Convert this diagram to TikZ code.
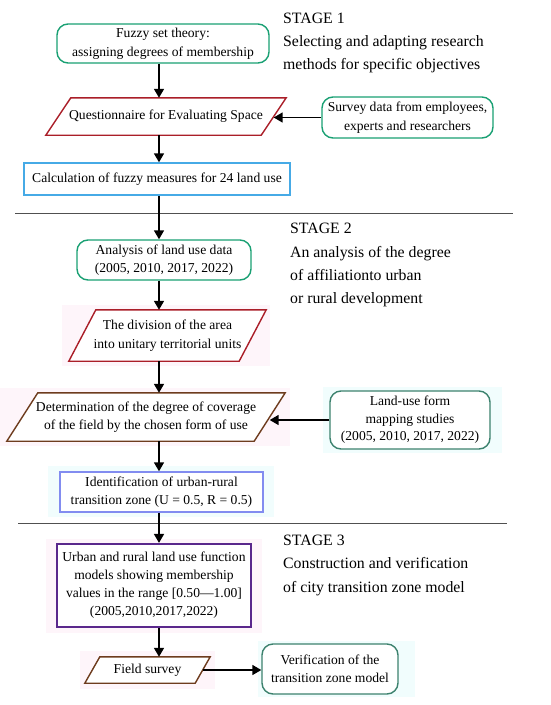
\documentclass[tikz,border=0pt]{standalone}
\usepackage{fontspec}
\setmainfont{Liberation Serif}
\usetikzlibrary{calc,arrows.meta}
\definecolor{grn}{RGB}{25,160,115}
\definecolor{drd}{RGB}{170,30,40}
\definecolor{lbl}{RGB}{70,170,230}
\definecolor{brn}{RGB}{110,60,30}
\definecolor{lpu}{RGB}{130,140,240}
\definecolor{pur}{RGB}{90,40,140}
\definecolor{tea}{RGB}{60,130,110}
\definecolor{sep}{RGB}{80,80,80}
\definecolor{bgpink}{RGB}{254,245,250}
\definecolor{bgcyan}{RGB}{241,253,253}
\newcommand{\drawpara}[3]{\draw[#3] ($(#1.north west)+(#2,0)$) -- ($(#1.north east)+(#2,0)$) -- ($(#1.south east)+(-#2,0)$) -- ($(#1.south west)+(-#2,0)$) -- cycle;}
\tikzset{
  txt/.style={font=\fontsize{13.6}{18.5}\selectfont, align=center, inner sep=0pt},
  rbox/.style={txt, draw, line width=1.4pt, rounded corners=11pt, fill=white},
  sbox/.style={txt, draw, line width=1.4pt, fill=white},
  pbox/.style={txt},
  pline/.style={line width=1.4pt, fill=white},
  stage/.style={font=\fontsize{15.8}{22}\selectfont, anchor=base west, inner sep=0pt},
  arr/.style={line width=1.6pt, -{Triangle[width=10pt,length=9pt]}},
  divider/.style={sep, line width=0.8pt},
  glow/.style={draw=none}
}
\begin{document}
\begin{tikzpicture}[x=1pt,y=-1pt]
\useasboundingbox (0,0) rectangle (550,705);
\coordinate (ax) at (159,0);
% faint background highlights
\fill[glow, bgpink] (62,305) rectangle (270,366);
\fill[glow, bgpink] (0,388) rectangle (290,446);
\fill[glow, bgcyan] (323,387) rectangle (502,453);
\fill[glow, bgcyan] (48,466) rectangle (274,517);
\fill[glow, bgpink] (46,539) rectangle (262,633);
\fill[glow, bgpink] (80,651) rectangle (215,689);
\fill[glow, bgcyan] (258,641) rectangle (415,697);
% dividers
\draw[divider] (15,213) -- (513,213);
\draw[divider] (18,523) -- (507,523);
% stage texts
\node[stage] (s1a) at (283,23) {STAGE 1};
\node[stage] (s1b) at (283,46) {Selecting and adapting research};
\node[stage] (s1c) at (283,69) {methods for specific objectives};
\node[stage] (s2a) at (290,233) {STAGE 2};
\node[stage] (s2b) at (290,257) {An analysis of the degree};
\node[stage] (s2c) at (290,280) {of affiliationto urban};
\node[stage] (s2d) at (290,303) {or rural development};
\node[stage] (s3a) at (283,545) {STAGE 3};
\node[stage] (s3b) at (283,568) {Construction and verification};
\node[stage] (s3c) at (283,592) {of city transition zone model};
% stage 1
\node[rbox, draw=grn, minimum width=212pt, minimum height=39pt] (fuzzy) at (163,43.5) {Fuzzy set theory:\\assigning degrees of membership};
\node[pbox, minimum width=215pt, minimum height=37pt] (q) at (166,116.5) {};
\drawpara{q}{12.5}{pline, draw=drd}
\node[txt] (qt) at (q.center) {Questionnaire for Evaluating Space};
\node[rbox, draw=grn, minimum width=171pt, minimum height=41pt] (survey) at (407.5,117.5) {Survey data from employees,\\experts and researchers};
\node[sbox, draw=lbl, minimum width=266pt, minimum height=32pt] (calc) at (157,179) {Calculation of fuzzy measures for 24 land use};
% stage 2
\node[rbox, draw=grn, minimum width=174pt, minimum height=40pt] (anal) at (164,260) {Analysis of land use data\\(2005, 2010, 2017, 2022)};
\node[pbox, minimum width=170pt, minimum height=51pt] (div) at (167.5,335.5) {};
\drawpara{div}{13.5}{pline, draw=drd}
\node[txt] (divt) at (div.center) {The division of the area\\into unitary territorial units};
\node[pbox, minimum width=247pt, minimum height=48pt] (det) at (146,417) {};
\drawpara{det}{15.5}{pline, draw=brn}
\node[txt] (dett) at (det.center) {Determination of the degree of coverage\\of the field by the chosen form of use};
\node[rbox, draw=tea, minimum width=160pt, minimum height=58pt, font=\fontsize{13.6}{17.5}\selectfont] (land) at (410,420) {Land-use form\\mapping studies\\(2005, 2010, 2017, 2022)};
\node[sbox, draw=lpu, minimum width=203pt, minimum height=40pt] (ident) at (161.5,492) {Identification of urban-rural\\transition zone (U = 0.5, R = 0.5)};
% stage 3
\node[txt, draw=pur, fill=white, line width=2.2pt, minimum width=194pt, minimum height=83pt, font=\fontsize{13.6}{18}\selectfont] (urban) at (154,585.5) {Urban and rural land use function\\models showing membership\\values in the range [0.50---1.00]\\(2005,2010,2017,2022)};
\node[pbox, minimum width=110pt, minimum height=26pt] (field) at (147.5,670) {};
\drawpara{field}{7.5}{pline, draw=brn}
\node[txt] (fieldt) at (field.center) {Field survey};
\node[rbox, draw=tea, minimum width=136pt, minimum height=50pt] (verif) at (330,669) {Verification of the\\transition zone model};
% connectors
\draw[arr] (fuzzy.south -| ax) -- (q.north -| ax);
\draw[arr] (survey.west) -- (survey.west -| q.east);
\draw[arr] (q.south -| ax) -- (calc.north -| ax);
\draw[arr] (calc.south -| ax) -- (anal.north -| ax);
\draw[arr] (anal.south -| ax) -- (div.north -| ax);
\draw[arr] (div.south -| ax) -- (det.north -| ax);
\draw[arr] (land.west) -- (land.west -| det.east);
\draw[arr] (det.south -| ax) -- (ident.north -| ax);
\draw[arr] (ident.south -| ax) -- (urban.north -| ax);
\draw[arr] (urban.south -| ax) -- (field.north -| ax);
\draw[arr] (field.east) -- (field.east -| verif.west);
\end{tikzpicture}
\end{document}
